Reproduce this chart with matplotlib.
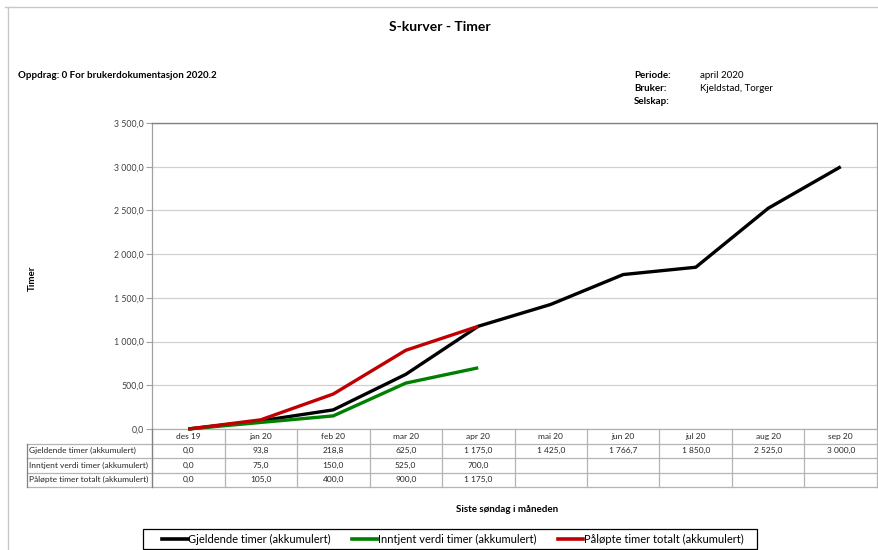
import matplotlib
matplotlib.use("Agg")
import matplotlib.pyplot as plt
import matplotlib.transforms as mtransforms
from matplotlib.lines import Line2D
from matplotlib.patches import Rectangle

categories = ['des 19', 'jan 20', 'feb 20', 'mar 20', 'apr 20',
              'mai 20', 'jun 20', 'jul 20', 'aug 20', 'sep 20']
gjeldende = [0.0, 93.8, 218.8, 625.0, 1175.0, 1425.0, 1766.7, 1850.0, 2525.0, 3000.0]
inntjent = [0.0, 75.0, 150.0, 525.0, 700.0]
palopte = [0.0, 105.0, 400.0, 900.0, 1175.0]
series_names = ['Gjeldende timer (akkumulert)', 'Inntjent verdi timer (akkumulert)',
                'Påløpte timer totalt (akkumulert)']
series_colors = ['#000000', '#008000', '#c00000']
yticks = [0, 500, 1000, 1500, 2000, 2500, 3000, 3500]

FONT = 'Lato'
plt.rcParams['font.family'] = [FONT, 'DejaVu Sans']

W, H = 879, 550
fig = plt.figure(figsize=(W / 100, H / 100), dpi=100)
fig.patch.set_facecolor('white')


def fx(px):
    return px / W


def fy(py):
    return 1 - py / H


def fmt(v):
    s = f"{v:,.1f}"
    return s.replace(',', ' ').replace('.', ',')


L, R, T, B = 152, 877, 123, 429
ax = fig.add_axes([fx(L), fy(B), fx(R) - fx(L), fy(T) - fy(B)])
all_series = [gjeldende, inntjent, palopte]
for vals, name, col in zip(all_series, series_names, series_colors):
    ax.plot(range(len(vals)), vals, color=col, lw=2.4, label=name,
            solid_capstyle='butt', solid_joinstyle='round', clip_on=False, zorder=3)

ax.set_xlim(-0.5, len(categories) - 0.5)
ax.set_ylim(0, 3500)
ax.set_yticks(yticks)
ax.set_yticklabels([fmt(v) for v in yticks], fontsize=6.3, color='#404040')
ax.set_xticks([])
ax.grid(axis='y', color='#d0d0d0', lw=0.9)
ax.set_axisbelow(True)
for s in ['left', 'right']:
    ax.spines[s].set_color('#a0a0a0')
    ax.spines[s].set_linewidth(0.9)
ax.spines['top'].set_color('#808080')
ax.spines['top'].set_linewidth(1.0)
ax.spines['bottom'].set_color('#b0b0b0')
ax.spines['bottom'].set_linewidth(0.9)
ax.tick_params(axis='y', length=4, width=0.8, color='#a0a0a0', pad=2)

# Data table under the chart
bt = mtransforms.blended_transform_factory(ax.transData, fig.transFigure)
row_lines = [429, 443.5, 458, 472.5, 487]
tcol = '#b4b4b4'
n = len(categories)
for k in range(n + 1):
    xk = k - 0.5
    fig.add_artist(Line2D([xk, xk], [fy(429), fy(487)], transform=bt, color=tcol, lw=0.9))
for ry in row_lines[1:]:
    fig.add_artist(Line2D([fx(27), fx(R)], [fy(ry), fy(ry)], transform=fig.transFigure,
                          color=tcol, lw=0.9))
fig.add_artist(Line2D([fx(27), fx(27)], [fy(443.5), fy(487)], transform=fig.transFigure,
                      color='#808080', lw=0.9))
fig.add_artist(Line2D([fx(L), fx(L)], [fy(429), fy(487)], transform=fig.transFigure,
                      color='#808080', lw=0.9))

tfs = 6.0
tc = '#262626'
hy = (row_lines[0] + row_lines[1]) / 2
for k, c in enumerate(categories):
    fig.text(k, fy(hy), c, transform=bt, ha='center', va='center', fontsize=tfs, color=tc)
for r, (vals, name) in enumerate(zip(all_series, series_names)):
    cy = (row_lines[r + 1] + row_lines[r + 2]) / 2
    fig.text(fx(29), fy(cy), name, ha='left', va='center', fontsize=tfs, color=tc)
    for k, v in enumerate(vals):
        fig.text(k, fy(cy), fmt(v), transform=bt, ha='center', va='center',
                 fontsize=tfs, color=tc)

# Titles and header info
fig.text(fx(440), fy(27), 'S-kurver - Timer', ha='center', va='center',
         fontsize=10, fontweight='bold', color='#000000')
fig.text(fx(18), fy(75), 'Oppdrag: 0 For brukerdokumentasjon 2020.2', ha='left', va='center',
         fontsize=7, fontweight='bold', color='#000000')
for i, (k, v) in enumerate([('Periode:', 'april 2020'), ('Bruker:', 'Kjeldstad, Torger'),
                            ('Selskap:', '')]):
    yy = 75 + i * 13.5
    fig.text(fx(634), fy(yy), k, ha='left', va='center', fontsize=7, fontweight='bold')
    fig.text(fx(700), fy(yy), v, ha='left', va='center', fontsize=7)

fig.text(fx(32), fy(278), 'Timer', rotation=90, ha='center', va='center',
         fontsize=7, fontweight='bold')
fig.text(fx(507), fy(510), 'Siste søndag i måneden', ha='center', va='center',
         fontsize=7, fontweight='bold')

# Page border lines
fig.add_artist(Line2D([fx(8), fx(8)], [fy(7), fy(550)], transform=fig.transFigure,
                      color='#c8c8c8', lw=1.0))
fig.add_artist(Line2D([fx(5), fx(879)], [fy(7), fy(7)], transform=fig.transFigure,
                      color='#c8c8c8', lw=1.0))

# Legend
fig.add_artist(Rectangle((fx(143), fy(549)), fx(757) - fx(143), fy(529) - fy(549),
                         transform=fig.transFigure, facecolor='white',
                         edgecolor='#000000', lw=0.9, zorder=1))
handles = [Line2D([], [], color=c, lw=2.6) for c in series_colors]
leg = fig.legend(handles, series_names, loc='center',
                 bbox_to_anchor=(fx(453), fy(539)), ncol=3, fontsize=8.0,
                 frameon=False, handlelength=2.3, handletextpad=0.05,
                 columnspacing=1.9, borderpad=0.2, borderaxespad=0)
leg.set_zorder(5)

fig.savefig('out.png', dpi=100, facecolor='white')
